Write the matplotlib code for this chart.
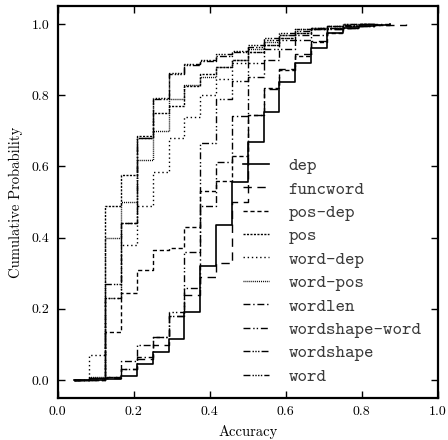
import matplotlib
matplotlib.use("Agg")
import matplotlib.pyplot as plt
import numpy as np

# accuracy grid: k/24, k = 1..22
steps = list(range(1, 23))

dep = [0, 0, 0.003, 0.012, 0.045, 0.078, 0.115, 0.19, 0.32, 0.435, 0.556, 0.668, 0.754, 0.838, 0.89, 0.933, 0.975, 0.99, 0.995, 0.998, 1.0]
funcword = [0, 0, 0.005, 0.03, 0.06, 0.1, 0.18, 0.24, 0.29, 0.33, 0.5, 0.745, 0.818, 0.874, 0.916, 0.952, 0.985, 0.99, 0.993, 0.996, 0.998, 1.0]
pos_dep = [0, 0, 0.134, 0.245, 0.31, 0.366, 0.37, 0.43, 0.53, 0.56, 0.63, 0.745, 0.82, 0.87, 0.91, 0.95, 0.975, 0.99, 0.995, 0.998, 1.0]
pos = [0, 0.005, 0.49, 0.575, 0.685, 0.75, 0.77, 0.827, 0.86, 0.88, 0.9, 0.92, 0.94, 0.96, 0.975, 0.985, 0.99, 0.995, 1.0, 1.0]
word_dep = [0, 0.07, 0.23, 0.38, 0.49, 0.585, 0.68, 0.74, 0.80, 0.845, 0.89, 0.92, 0.94, 0.96, 0.975, 0.985, 0.99, 0.995, 1.0, 1.0]
word_pos = [0, 0.01, 0.40, 0.50, 0.617, 0.70, 0.79, 0.83, 0.85, 0.88, 0.90, 0.93, 0.95, 0.97, 0.985, 0.99, 0.995, 1.0, 1.0, 1.0]
wordlen = [0, 0.005, 0.01, 0.053, 0.065, 0.12, 0.18, 0.26, 0.49, 0.612, 0.743, 0.852, 0.9, 0.93, 0.955, 0.97, 0.985, 0.99, 0.995, 1.0, 1.0]
wordshape_word = [0, 0, 0.01, 0.03, 0.1, 0.12, 0.19, 0.36, 0.665, 0.79, 0.84, 0.89, 0.93, 0.955, 0.97, 0.985, 0.99, 0.995, 1.0, 1.0]
wordshape = [0, 0.005, 0.27, 0.44, 0.68, 0.79, 0.86, 0.885, 0.895, 0.91, 0.92, 0.935, 0.955, 0.97, 0.98, 0.99, 0.995, 1.0, 1.0, 1.0]
word = [0, 0.005, 0.23, 0.44, 0.68, 0.793, 0.863, 0.888, 0.9, 0.917, 0.925, 0.94, 0.96, 0.975, 0.985, 0.99, 0.995, 0.997, 1.0, 1.0]

labels = ["dep", "funcword", "pos-dep", "pos", "word-dep", "word-pos",
          "wordlen", "wordshape-word", "wordshape", "word"]
series = [dep, funcword, pos_dep, pos, word_dep, word_pos,
          wordlen, wordshape_word, wordshape, word]
styles = ["-", (0, (6, 4)), (0, (3, 2)), (0, (1.5, 1)), (0, (1, 2)), (0, (0.7, 0.7)),
          (0, (5, 2, 1, 2)), (0, (5, 2, 1, 1.5, 1, 2)),
          (0, (5, 1.5, 1, 1, 1, 1, 1, 1.5)), (0, (5, 1.5, 1, 1, 1, 1, 1, 1, 1, 1.5))]
widths = [1.2, 1.0, 1.0, 1.0, 1.0, 1.0, 1.0, 1.0, 1.0, 1.0]

plt.rcParams['font.family'] = ['cmr10', 'DejaVu Serif']
plt.rcParams['axes.formatter.use_mathtext'] = True
plt.rcParams['mathtext.fontset'] = 'cm'

fig = plt.figure(figsize=(4.48, 4.40), dpi=100)
ax = fig.add_axes([0.129, 0.0955, 0.848, 0.8905])

for vals, lab, ls, lw in zip(series, labels, styles, widths):
    xs = np.array(steps[:len(vals)]) / 24.0
    ax.plot(xs, vals, drawstyle='steps-post', color='black', linestyle=ls,
            linewidth=lw, label=lab)

ax.set_xlim(0, 1.0)
ax.set_ylim(-0.05, 1.05)
ax.set_xticks([0.0, 0.2, 0.4, 0.6, 0.8, 1.0])
ax.set_yticks([0.0, 0.2, 0.4, 0.6, 0.8, 1.0])
ax.set_xticklabels(["0.0", "0.2", "0.4", "0.6", "0.8", "1.0"])
ax.set_yticklabels(["0.0", "0.2", "0.4", "0.6", "0.8", "1.0"])
ax.tick_params(direction='in', length=5, width=1, top=True, right=True,
               labelsize=10, pad=6)
for s in ax.spines.values():
    s.set_linewidth(1.6)
ax.set_xlabel("Accuracy", fontsize=10.5, labelpad=5)
ax.set_ylabel("Cumulative Probability", fontsize=10.5, labelpad=6)

leg = ax.legend(loc='lower right', frameon=False, handlelength=1.4,
                handletextpad=1.1, labelspacing=0.375,
                prop={'family': 'cmtt10', 'size': 13},
                bbox_to_anchor=(1.0, -0.008))
for t in leg.get_texts():
    t.set_color('#3a3a3a')

fig.savefig("out.png", dpi=100)
